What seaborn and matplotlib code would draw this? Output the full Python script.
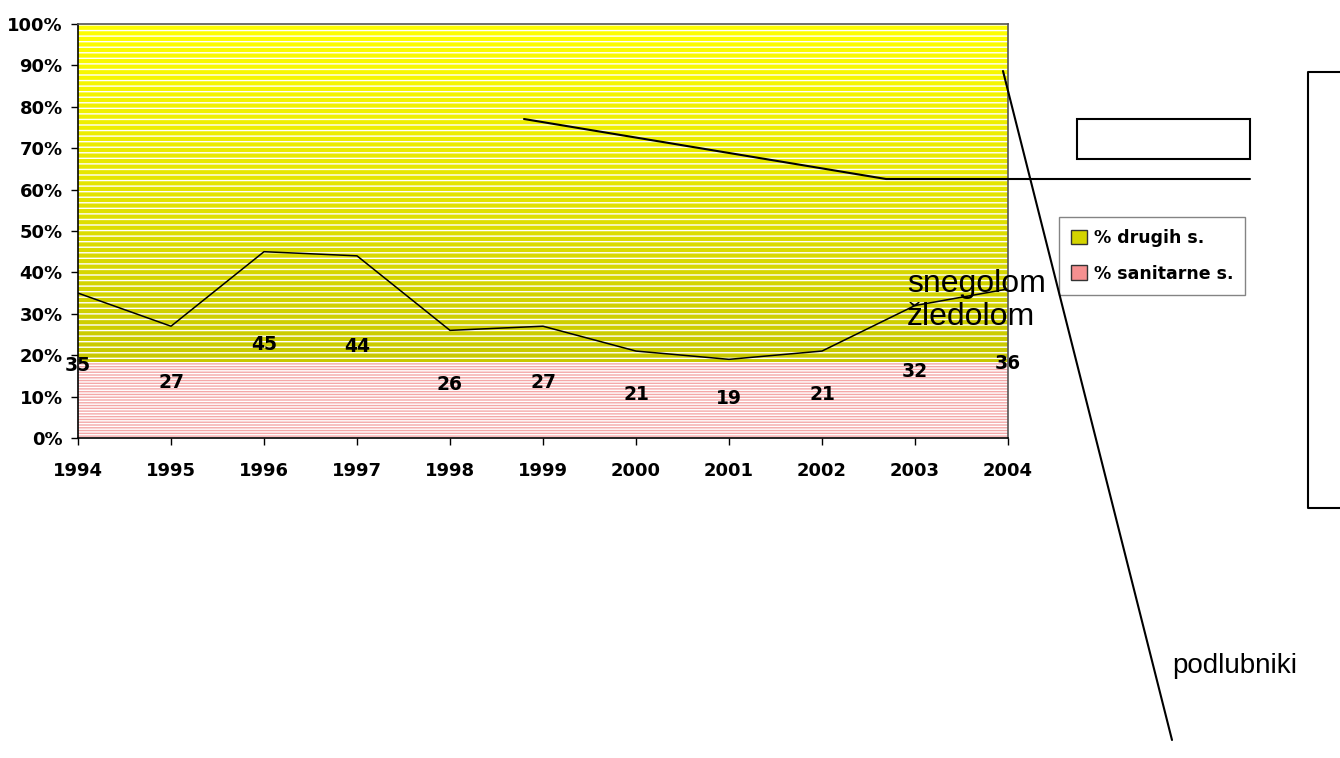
import numpy as np
import pandas as pd
import matplotlib
matplotlib.use("Agg")
import matplotlib.pyplot as plt
import seaborn as sns
from matplotlib.lines import Line2D
from matplotlib.patches import Patch, Rectangle
from matplotlib.ticker import PercentFormatter

# data
years = [1994, 1995, 1996, 1997, 1998, 1999, 2000, 2001, 2002, 2003, 2004]
sanitarne = [35, 27, 45, 44, 26, 27, 21, 19, 21, 32, 36]
# the pink band is drawn flat in the picture
sanitarne_band = [18.4, 18.4, 18.4, 18.4, 18.4, 18.4, 18.4, 18.4, 18.4, 18.4, 18.4]
total = [100, 100, 100, 100, 100, 100, 100, 100, 100, 100, 100]
y_ticks = [0, 10, 20, 30, 40, 50, 60, 70, 80, 90, 100]

df = pd.DataFrame({"year": years, "sanitarne": sanitarne,
                   "band": sanitarne_band, "total": total})

sns.set_theme(style="white")
plt.rcParams["font.family"] = ["DejaVu Sans"]
plt.rcParams["hatch.linewidth"] = 1.0
plt.rcParams["text.color"] = "black"
plt.rcParams["xtick.color"] = "black"
plt.rcParams["ytick.color"] = "black"

W, H = 1340, 758
fig = plt.figure(figsize=(W / 100, H / 100), dpi=100)
ax = fig.add_axes([78 / W, 1 - 438 / H, (1008 - 78) / W, (438 - 24) / H])

# pink area (striped)
ax.fill_between(df["year"], 0, df["band"], facecolor="#F4A8A8",
                edgecolor="white", hatch="------", linewidth=0, zorder=1)

# yellow area with vertical gradient + white stripes
ax.fill_between(df["year"], df["band"], df["total"], facecolor="none",
                edgecolor="white", hatch="---", linewidth=0, zorder=3)
yy = np.linspace(0, 100, 400)
t = np.clip((yy - 18.4) / (100 - 18.4), 0, 1)
grad = np.zeros((len(yy), 2, 3))
grad[:, :, 0] = (200 + 55 * t)[:, None] / 255
grad[:, :, 1] = (200 + 55 * t)[:, None] / 255
img = ax.imshow(grad, extent=[years[0], years[-1], 0, 100], origin="lower",
                aspect="auto", interpolation="bilinear", zorder=2)
poly = ax.fill_between(df["year"], df["band"], df["total"], facecolor="none",
                       linewidth=0)
img.set_clip_path(poly.get_paths()[0], transform=ax.transData)

sns.lineplot(data=df, x="year", y="sanitarne", color="black", linewidth=1.1,
             ax=ax, zorder=5)

for x, v in zip(years, sanitarne):
    ax.text(x, v / 2, str(v), ha="center", va="center", fontsize=13.5,
            fontweight="bold", color="black", zorder=6)

ax.set_xlim(years[0], years[-1])
ax.set_ylim(0, 100)
ax.set_xticks(years)
ax.set_yticks(y_ticks)
ax.yaxis.set_major_formatter(PercentFormatter(decimals=0))
ax.set_xlabel("")
ax.set_ylabel("")
ax.tick_params(axis="both", which="major", direction="out", length=5,
               width=1, color="black", labelsize=13, labelcolor="black")
ax.tick_params(axis="y", pad=6)
ax.tick_params(axis="x", pad=12)
ax.xaxis.set_ticks_position("bottom")
ax.yaxis.set_ticks_position("left")
for lab in ax.get_xticklabels() + ax.get_yticklabels():
    lab.set_fontweight("bold")
for s in ["left", "bottom"]:
    ax.spines[s].set_color("black")
    ax.spines[s].set_linewidth(1.2)
for s in ["top", "right"]:
    ax.spines[s].set_color("#555555")
    ax.spines[s].set_linewidth(1.2)
for s in ax.spines.values():
    s.set_zorder(7)

# legend
handles = [Patch(facecolor="#D4D400", edgecolor="#333333", label="% drugih s."),
           Patch(facecolor="#F59090", edgecolor="#333333", label="% sanitarne s.")]
leg = fig.legend(handles=handles, loc="upper left",
                 bbox_to_anchor=(1059 / W, 1 - 217 / H), bbox_transform=fig.transFigure,
                 frameon=True, fancybox=False, borderaxespad=0, borderpad=0.7,
                 labelspacing=1.0, handlelength=0.9, handleheight=0.9,
                 handletextpad=0.4, prop={"weight": "bold", "size": 12.5})
leg.get_frame().set_edgecolor("#666666")
leg.get_frame().set_linewidth(1.0)
for txt in leg.get_texts():
    txt.set_color("black")


def fig_line(xs, ys, lw=1.5):
    fig.add_artist(Line2D([x / W for x in xs], [1 - y / H for y in ys],
                          color="black", linewidth=lw, transform=fig.transFigure,
                          zorder=10))


# leftover drawing shapes
fig_line([524, 886, 1250], [119, 179, 179])
fig_line([1003, 1172], [71, 740])
fig.add_artist(Rectangle((1077 / W, 1 - 159 / H), (1250 - 1077) / W, 40 / H,
                         fill=False, edgecolor="black", linewidth=1.5,
                         transform=fig.transFigure))
fig_line([1345, 1308, 1308, 1345], [72, 72, 508, 508])

fig.text(907 / W, 1 - 325 / H, "snegolom\nžledolom", fontsize=23,
         family="Liberation Sans", ha="left", va="baseline", linespacing=1.15,
         color="black", zorder=11)
fig.text(1172 / W, 1 - 673 / H, "podlubniki", fontsize=20,
         family="Liberation Sans", ha="left", va="baseline", color="black")

fig.savefig("out.png", dpi=100)
